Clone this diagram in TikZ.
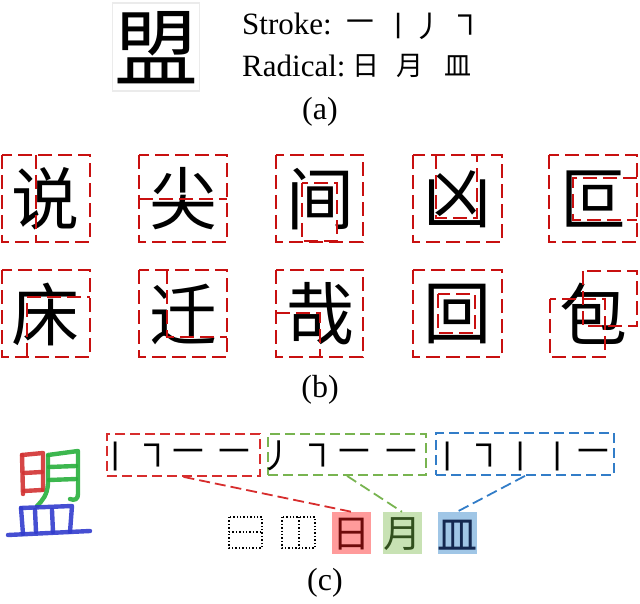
\documentclass[tikz,border=0pt]{standalone}
\usepackage{fontspec}
\setmainfont{Liberation Serif}
\newfontfamily\cjk{Noto Sans CJK SC}
\definecolor{bred}{RGB}{200,16,16}
\definecolor{cred}{RGB}{215,45,45}
\definecolor{cgreen}{RGB}{120,180,80}
\definecolor{cblue}{RGB}{50,125,200}
\definecolor{fred}{RGB}{255,155,155}
\definecolor{fgreen}{RGB}{200,226,180}
\definecolor{fblue}{RGB}{160,198,230}
\definecolor{hred}{RGB}{210,50,50}
\definecolor{hgreen}{RGB}{40,175,60}
\definecolor{hblue}{RGB}{50,60,205}
\tikzset{
  bbox/.style={draw=bred, dash pattern=on 14pt off 6pt, line width=2.8pt},
  bigch/.style={font=\cjk\fontsize{68}{68}\selectfont, inner sep=0pt},
  lbl/.style={font=\fontsize{32}{32}\selectfont, inner sep=0pt},
  txt/.style={font=\fontsize{31}{31}\selectfont, inner sep=0pt, anchor=base west},
  stk/.style={font=\cjk\fontsize{30}{30}\selectfont, inner sep=0pt},
  rad/.style={font=\cjk\fontsize{27}{27}\selectfont, inner sep=0pt},
  cstk/.style={font=\cjk\fontsize{34}{34}\selectfont, inner sep=0pt},
  sbox/.style={draw=#1, dash pattern=on 10pt off 5pt, line width=1.8pt, inner sep=0pt},
  conn/.style={draw=#1, dash pattern=on 11pt off 5pt, line width=1.8pt},
  fbox/.style={fill=#1, inner sep=0pt, minimum width=39pt, minimum height=42pt},
  dbox/.style={draw=black, dotted, line width=1.4pt},
  hand/.style={draw=#1, line width=4.4pt, line cap=round, line join=round, opacity=0.9},
}
\begin{document}
\begin{tikzpicture}[x=1pt,y=-1pt]
\useasboundingbox (0,0) rectangle (640,604);
% ---------- (a)
\node[draw=black!8, line width=1.5pt, minimum width=87pt, minimum height=88pt, inner sep=0pt] (abox) at (156,47) {};
\node[font=\cjk\fontsize{84}{84}\selectfont, inner sep=0pt] (meng) at (156,48) {盟};
\node[txt] (strokeT) at (242,35) {Stroke:};
\node[stk] (s1) at (360,26) {㇐};
\node[stk] (s2) at (398,26) {㇑};
\node[stk] (s3) at (428,26) {丿};
\node[stk] (s4) at (465,26) {㇕};
\node[txt] (radT) at (242,77) {Radical:};
\node[rad] (r1) at (366,66) {日};
\node[rad] (r2) at (410,66) {月};
\node[rad] (r3) at (458,66) {皿};
\node[lbl] (la) at (320,112) {(a)};
% ---------- (b) row 1
\node[bigch] (c1) at (46,199) {说};
\draw[bbox] (2,155) rectangle (90,242);
\draw[bbox] (36,155) -- (36,242);
\node[bigch] (c2) at (183,199) {尖};
\draw[bbox] (139,155) rectangle (227,242);
\draw[bbox] (139,199) -- (227,199);
\node[bigch] (c3) at (320,199) {间};
\draw[bbox] (276,155) rectangle (363,242);
\draw[bbox] (302,183) rectangle (337,241);
\node[bigch] (c4) at (457,199) {凶};
\draw[bbox] (413,155) rectangle (502,242);
\draw[bbox] (436,155) -- (436,218) -- (477,218) -- (477,155);
\node[bigch] (c5) at (593,199) {叵};
\draw[bbox] (549,155) rectangle (637,242);
\draw[bbox] (637,178) -- (573,178) -- (573,220) -- (637,220);
% ---------- (b) row 2
\node[bigch] (c6) at (46,314) {床};
\draw[bbox] (2,270) rectangle (90,357);
\draw[bbox] (27,357) -- (27,297) -- (90,297);
\node[bigch] (c7) at (183,314) {迁};
\draw[bbox] (139,270) rectangle (227,357);
\draw[bbox] (167,270) -- (167,337) -- (227,337);
\node[bigch] (c8) at (320,314) {哉};
\draw[bbox] (276,270) rectangle (363,357);
\draw[bbox] (276,313) -- (320,313) -- (320,357);
\node[bigch] (c9) at (457,314) {回};
\draw[bbox] (413,270) rectangle (502,357);
\draw[bbox] (438,294) rectangle (475,333);
\node[bigch] (c10) at (593,314) {包};
\draw[bbox] (583,271) rectangle (637,326);
\draw[bbox] (550,299) rectangle (605,357);
\node[lbl] (lb) at (320,390) {(b)};
% ---------- (c) handwritten character
\draw[hand=hred] (22,455) -- (23,494);
\draw[hand=hred] (22,455) -- (43,453) -- (43,490);
\draw[hand=hred] (24,473) -- (42,472);
\draw[hand=hred] (24,491) -- (42,490);
\draw[hand=hgreen] (48,456) -- (48,484) .. controls (47,495) and (43,500) .. (37,506);
\draw[hand=hgreen] (48,455) -- (78,451) -- (78,494) .. controls (78,499) and (75,501) .. (70,499);
\draw[hand=hgreen] (49,467) -- (76,466);
\draw[hand=hgreen] (49,480) -- (76,479);
\draw[hand=hblue] (21,508) -- (23,534);
\draw[hand=hblue] (21,508) -- (72,506) -- (70,532);
\draw[hand=hblue] (35,510) -- (36,532);
\draw[hand=hblue] (52,510) -- (53,532);
\draw[hand=hblue] (8,535) -- (90,531);
% ---------- (c) stroke boxes
\node[sbox=cred, minimum width=153pt, minimum height=42pt] (rs) at (183.5,455) {};
\node[cstk] (rs1) at (115,456) {㇑};
\node[cstk] (rs2) at (152,456) {㇕};
\node[cstk] (rs3) at (188,456) {㇐};
\node[cstk] (rs4) at (234,456) {㇐};
\node[sbox=cgreen, minimum width=158pt, minimum height=41pt] (gs) at (347,454.5) {};
\node[cstk] (gs1) at (277,456) {丿};
\node[cstk] (gs2) at (317,456) {㇕};
\node[cstk] (gs3) at (354,456) {㇐};
\node[cstk] (gs4) at (401,456) {㇐};
\node[sbox=cblue, minimum width=178pt, minimum height=42pt] (bs) at (525,454) {};
\node[cstk] (bs1) at (447,456) {㇑};
\node[cstk] (bs2) at (484,456) {㇕};
\node[cstk] (bs3) at (520,456) {㇑};
\node[cstk] (bs4) at (557,456) {㇑};
\node[cstk] (bs5) at (593,456) {㇐};
% ---------- (c) radicals
\draw[dbox] (229,517) rectangle (262,548);
\draw[dbox] (229,532) -- (262,532);
\draw[dbox] (282,517) rectangle (315,548);
\draw[dbox] (299,517) -- (299,548);
\node[fbox=fred] (fr) at (351.5,533) {};
\node[font=\cjk\fontsize{38}{38}\selectfont, text={rgb,255:red,110;green,10;blue,10}, inner sep=0pt] (fr1) at (351.5,534) {日};
\node[fbox=fgreen] (fg) at (402,533) {};
\node[font=\cjk\fontsize{38}{38}\selectfont, text={rgb,255:red,50;green,80;blue,30}, inner sep=0pt] (fg1) at (402,534) {月};
\node[fbox=fblue] (fb) at (457,533) {};
\node[font=\cjk\fontsize{40}{40}\selectfont, text={rgb,255:red,20;green,40;blue,80}, inner sep=0pt] (fb1) at (457,535) {皿};
\draw[conn=cred] (rs.south) -- (fr.north);
\draw[conn=cgreen] (gs.south) -- (fg.north);
\draw[conn=cblue] (bs.south) -- (fb.north);
\node[lbl] (lc) at (325,583) {(c)};
\end{tikzpicture}
\end{document}
